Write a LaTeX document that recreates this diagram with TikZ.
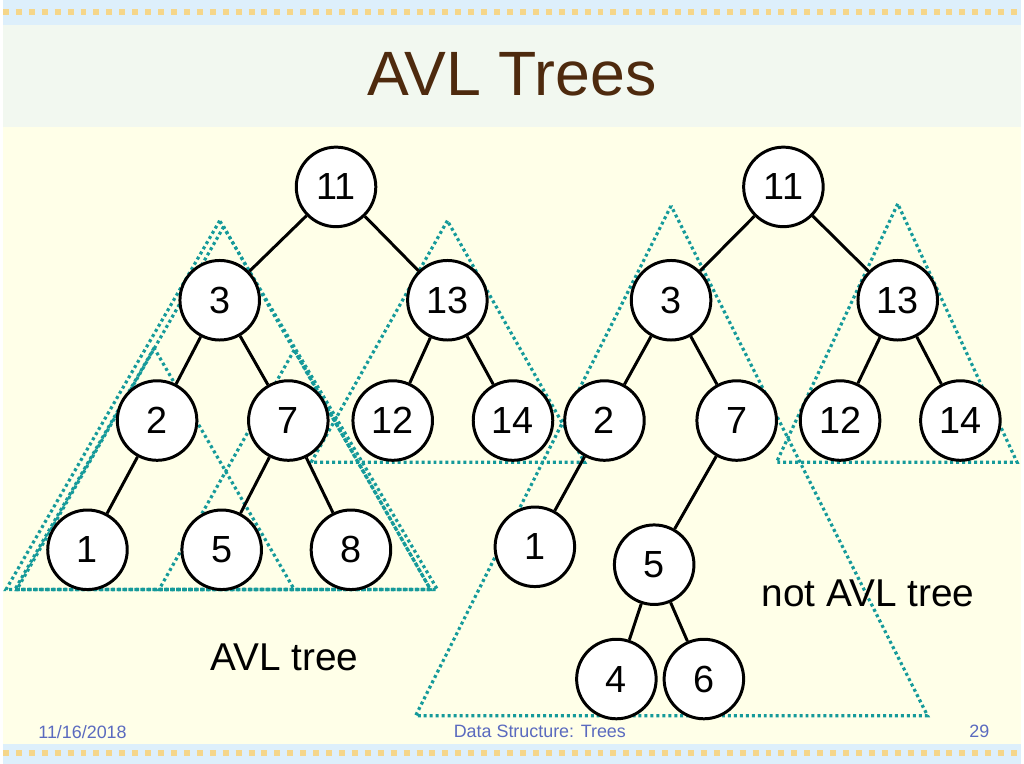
\documentclass[tikz,border=0pt]{standalone}
\usepackage{fontspec}
\setmainfont{Liberation Sans}
\definecolor{bgy}{HTML}{FFFFE8}
\definecolor{bgt}{HTML}{F2F8F0}
\definecolor{bgb}{HTML}{DDEFFB}
\definecolor{dots}{HTML}{F5D68A}
\definecolor{ttl}{HTML}{4E2A0E}
\definecolor{tri}{HTML}{159A9A}
\definecolor{ft}{HTML}{5A6ABF}
\begin{document}
\begin{tikzpicture}[x=1pt,y=-1pt,
  nd/.style={circle,draw,line width=3pt,fill=white,minimum size=80pt,inner sep=0pt,font=\fontsize{38}{42}\selectfont},
  ed/.style={line width=3pt},
  tri/.style={draw=tri,line width=3.2pt,dash pattern=on 3pt off 3pt},
  lbl/.style={font=\fontsize{39}{43}\selectfont}]
\fill[bgy] (0,0) rectangle (1024,768);
\fill[bgb] (0,0) rectangle (1024,25);
\fill[bgt] (0,25) rectangle (1024,128);
\fill[bgb] (0,748) rectangle (1024,768);
\draw[dots,line width=6pt,dash pattern=on 6pt off 7pt] (0,12) -- (1024,12);
\draw[dots,line width=6pt,dash pattern=on 6pt off 7pt] (0,757) -- (1024,757);
\node[font=\fontsize{63}{67}\selectfont,text=ttl] (title) at (512,75) {AVL Trees};
\node[font=\fontsize{18}{20}\selectfont,text=ft] (date) at (80,736) {11/16/2018};
\node[font=\fontsize{18}{20}\selectfont,text=ft] (foot) at (540,736) {Data Structure: Trees};
\node[font=\fontsize{18}{20}\selectfont,text=ft] (pg) at (982,736) {29};
% triangles
\draw[tri] (218,222) -- (3,593) -- (437,593) -- cycle;
\draw[tri] (222,228) -- (14,593) -- (430,593) -- cycle;
\draw[tri] (152,350) -- (12,593) -- (293,593) -- cycle;
\draw[tri] (293,352) -- (157,593) -- (430,593) -- cycle;
\draw[tri] (447,222) -- (310,465) -- (585,465) -- cycle;
\draw[tri] (672,207) -- (415,720) -- (930,720) -- cycle;
\draw[tri] (900,205) -- (778,465) -- (1020,465) -- cycle;
% left tree
\node[nd] (a11) at (335,188) {11};
\node[nd] (a3) at (218,302) {3};
\node[nd] (a13) at (447,302) {13};
\node[nd] (a2) at (155,423) {2};
\node[nd] (a7) at (287,423) {7};
\node[nd] (a12) at (392,423) {12};
\node[nd] (a14) at (513,423) {14};
\node[nd] (a1) at (85,553) {1};
\node[nd] (a5) at (220,553) {5};
\node[nd] (a8) at (350,553) {8};
\draw[ed] (a11)--(a3) (a11)--(a13) (a3)--(a2) (a3)--(a7) (a13)--(a12) (a13)--(a14) (a2)--(a1) (a7)--(a5) (a7)--(a8);
% right tree
\node[nd] (b11) at (785,188) {11};
\node[nd] (b3) at (672,302) {3};
\node[nd] (b13) at (900,302) {13};
\node[nd] (b2) at (605,423) {2};
\node[nd] (b7) at (738,423) {7};
\node[nd] (b12) at (842,423) {12};
\node[nd] (b14) at (963,423) {14};
\node[nd] (b1) at (535,550) {1};
\node[nd] (b5) at (655,568) {5};
\node[nd] (b4) at (617,683) {4};
\node[nd] (b6) at (705,683) {6};
\draw[ed] (b11)--(b3) (b11)--(b13) (b3)--(b2) (b3)--(b7) (b13)--(b12) (b13)--(b14) (b2)--(b1) (b7)--(b5) (b5)--(b4) (b5)--(b6);
\node[lbl] (avl) at (283,661) {AVL tree};
\node[lbl] (navl) at (870,597) {not AVL tree};
\end{tikzpicture}
\end{document}
